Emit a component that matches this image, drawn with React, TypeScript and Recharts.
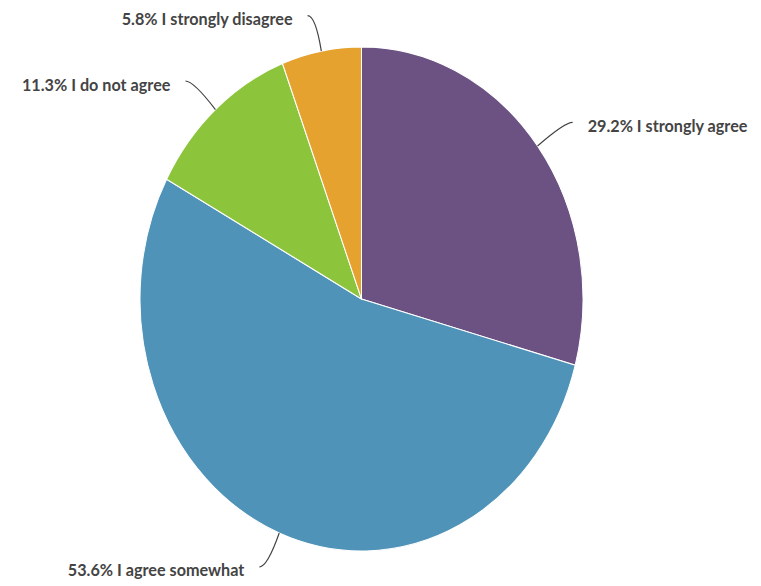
import React from "react";
import { PieChart, Pie, Cell } from "recharts";

const categories = [
  "I strongly agree",
  "I agree somewhat",
  "I do not agree",
  "I strongly disagree",
];
const shares = [29.2, 53.6, 11.3, 5.8];
const colors = ["#6b5283", "#5093b8", "#8cc43c", "#e6a22f"];

const W = 761;
const H = 586;
// the reference pie is slightly taller than wide
const S = 1.138;
const CX = 361.5;
const CY = 299 / S;
const R = 221.5;

const data = categories.map((name, i) => ({ name, value: shares[i] }));

function renderLabel(props: any) {
  const { cx, cy, midAngle, outerRadius, index } = props;
  const rad = (-midAngle * Math.PI) / 180;
  // everything below is in screen coordinates (undo vertical scale)
  const ex = cx + outerRadius * Math.cos(rad);
  const ey = (cy + outerRadius * Math.sin(rad)) * S;
  const ux = Math.cos(rad);
  const uy = Math.sin(rad) * S;
  const len = Math.hypot(ux, uy);
  const nx = ux / len;
  const ny = uy / len;
  const qx = ex + nx * 36;
  const qy = ey + ny * 36;
  const side = nx >= 0 ? 1 : -1;
  const endX = qx + side * 8;
  const endY = qy;
  return (
    <g transform={`scale(1, ${1 / S})`}>
      <path
        d={`M${ex},${ey} Q${qx},${qy} ${endX},${endY}`}
        stroke="#444"
        strokeWidth={1.2}
        fill="none"
      />
      <text
        x={endX + side * 15}
        y={endY + 3}
        textAnchor={side > 0 ? "start" : "end"}
        dominantBaseline="central"
        fill="#444"
        fontFamily="Lato, sans-serif"
        fontWeight={700}
        fontSize={16.2}
      >
        {`${shares[index].toFixed(1)}% ${categories[index]}`}
      </text>
    </g>
  );
}

export default function App() {
  return (
    <div
      style={{
        position: "fixed",
        left: 0,
        top: 0,
        width: W,
        height: H,
        background: "#fff",
        overflow: "hidden",
      }}
    >
      <div
        style={{
          width: W,
          height: H / S,
          transform: `scaleY(${S})`,
          transformOrigin: "0 0",
        }}
      >
        <PieChart
          width={W}
          height={H / S}
          margin={{ top: 0, right: 0, bottom: 0, left: 0 }}
        >
          <Pie
            data={data}
            dataKey="value"
            nameKey="name"
            cx={CX}
            cy={CY}
            outerRadius={R}
            startAngle={90}
            endAngle={-270}
            stroke="#fff"
            strokeWidth={1}
            label={renderLabel}
            labelLine={false}
            isAnimationActive={false}
          >
            {data.map((d, i) => (
              <Cell key={d.name} fill={colors[i]} />
            ))}
          </Pie>
        </PieChart>
      </div>
    </div>
  );
}
